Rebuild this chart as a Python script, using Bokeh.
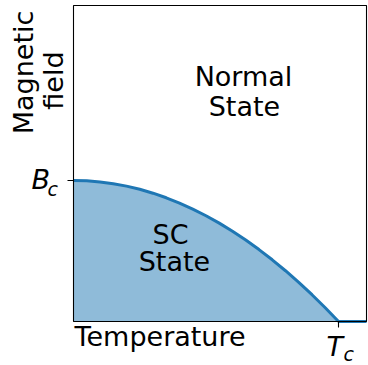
from bokeh.plotting import figure
from bokeh.models import Label, Range1d
from bokeh.embed import file_html
from bokeh.resources import INLINE
import math

# Critical-field curve (B / Bc vs T / Tc)
temperature = [0.0, 0.05, 0.1, 0.15, 0.2, 0.25, 0.3, 0.35, 0.4, 0.45, 0.5,
               0.55, 0.6, 0.65, 0.7, 0.75, 0.8, 0.85, 0.9, 0.95, 1.0]
field = [1.0, 0.9975, 0.99, 0.9775, 0.96, 0.9375, 0.91, 0.8775, 0.84, 0.7975, 0.75,
         0.6975, 0.64, 0.5775, 0.51, 0.4375, 0.36, 0.2775, 0.19, 0.0975, 0.0]
normal_T = [1.0, 1.1057]
normal_B = [0.0, 0.0]

Tc = 1.0
Bc = 1.0
T_MAX = 1.1057     # right edge of the axes box
B_MAX = 2.2411     # top edge of the axes box

W, H = 368, 365
PX_X = 265.0       # pixels per unit of T
PX_Y = 141.0       # pixels per unit of B
LEFT_PX, BOTTOM_PX = 73.0, 44.0
TICK_PX = 6.0

FONT = "DejaVu Sans"
FS = "27px"
SUB = "19px"

p = figure(width=W, height=H, output_backend="svg", toolbar_location=None,
           x_axis_type=None, y_axis_type=None,
           x_range=Range1d(-LEFT_PX / PX_X, (W - LEFT_PX) / PX_X),
           y_range=Range1d(-BOTTOM_PX / PX_Y, (H - BOTTOM_PX) / PX_Y),
           min_border=0)
p.title.visible = False
p.grid.visible = False
p.outline_line_color = None
p.background_fill_color = "white"
p.border_fill_color = "white"

# Superconducting region
p.varea(x=temperature, y1=[0] * len(temperature), y2=field,
        fill_color="#1f77b4", fill_alpha=0.5)
p.line(temperature, field, line_color="#1f77b4", line_width=3)
p.line(normal_T, normal_B, line_color="#1f77b4", line_width=3)

# Axes box and ticks
p.quad(left=[0], right=[T_MAX], bottom=[0], top=[B_MAX],
       fill_color=None, line_color="black", line_width=1.1)
p.segment(x0=[Tc], y0=[0], x1=[Tc], y1=[-TICK_PX / PX_Y], line_color="black", line_width=1.1)
p.segment(x0=[0], y0=[Bc], x1=[-TICK_PX / PX_X], y1=[Bc], line_color="black", line_width=1.1)

def lab(x, y, text, size=FS, style="normal", align="center", angle=0.0):
    p.add_layout(Label(x=x, y=y, text=text, text_font=FONT, text_font_size=size,
                       text_font_style=style, text_align=align,
                       text_baseline="middle", angle=angle, text_color="black"))

# Region labels
lab(0.6415, 1.740, "Normal")
lab(0.645, 1.527, "State")
lab(0.366, 0.619, "SC")
lab(0.381, 0.428, "State")

# Axis labels
lab(0.004, -0.104, "Temperature", align="left")
lab(-0.1898, 1.766, "Magnetic", angle=math.pi / 2)
lab(-0.0766, 1.709, "field", angle=math.pi / 2)

# Tick labels B_c and T_c
lab(-0.1585, 1.009, "B", style="italic", align="left")
lab(-0.098, 0.940, "c", size=SUB, style="italic", align="left")
lab(0.955, -0.175, "T", style="italic", align="left")
lab(1.019, -0.2305, "c", size=SUB, style="italic", align="left")

open("out.html", "w").write(file_html(p, INLINE))
